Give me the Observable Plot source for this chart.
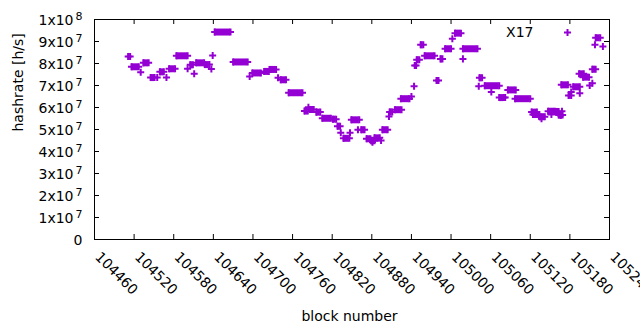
<!DOCTYPE html>
<html><head><meta charset="utf-8">
<script src="https://cdn.jsdelivr.net/npm/d3@7"></script>
<script src="https://cdn.jsdelivr.net/npm/@observablehq/plot@0.6"></script>
<style>
html,body{margin:0;padding:0;background:#fff;}
#chart svg{display:block;}
</style></head><body><div id="chart"></div>
<script>
// Runs of consecutive blocks sharing one hashrate value
const runStart = [104511,104516,104530,104534,104545,104555,104559,104569,104573,104584,104601,104605,104611,104614,104627,104637,104639,104642,104670,104695,104699,104717,104725,104738,104742,104754,104778,104784,104786,104796,104805,104821,104828,104833,104837,104847,104849,104859,104864,104872,104879,104881,104884,104894,104896,104906,104907,104915,104924,104940,104944,104945,104948,104954,104960,104978,104984,104991,105002,105006,105018,105018,105042,105043,105051,105061,105073,105082,105086,105097,105122,105124,105134,105137,105147,105152,105156,105163,105166,105168,105167,105178,105182,105185,105195,105194,105200,105210,105214,105214,105218,105219,105230];
const runEnd   = [104514,104527,104530,104542,104551,104555,104565,104569,104582,104601,104601,104609,104611,104626,104634,104637,104639,104666,104692,104695,104712,104724,104735,104738,104750,104775,104783,104784,104792,104802,104818,104826,104832,104833,104846,104847,104861,104859,104869,104878,104884,104881,104892,104894,104904,104906,104911,104925,104937,104940,104944,104947,104952,104958,104975,104981,104987,105000,105002,105015,105040,105018,105042,105047,105073,105061,105080,105082,105098,105120,105130,105133,105142,105137,105157,105152,105163,105169,105166,105168,105177,105182,105182,105195,105195,105201,105209,105210,105214,105219,105218,105226,105230];
const runValue = [83.2e6,78.5e6,76.0e6,80.3e6,73.6e6,73.6e6,76.2e6,73.6e6,77.6e6,83.5e6,77.6e6,79.4e6,75.3e6,80.3e6,79.5e6,77.5e6,83.6e6,94.3e6,80.7e6,74.1e6,75.7e6,76.4e6,77.3e6,73.5e6,72.6e6,66.7e6,58.4e6,60.1e6,59.1e6,57.9e6,55.1e6,54.7e6,51.5e6,48.5e6,46.0e6,48.5e6,54.4e6,49.9e6,49.9e6,45.8e6,44.9e6,44.2e6,46.2e6,45.0e6,49.9e6,55.9e6,58.0e6,59.0e6,64.0e6,65.0e6,69.7e6,79.1e6,81.7e6,88.5e6,83.5e6,72.3e6,82.1e6,86.7e6,91.2e6,93.8e6,86.7e6,82.1e6,69.7e6,73.5e6,69.9e6,67.0e6,64.5e6,64.5e6,68.0e6,64.0e6,57.9e6,56.8e6,55.8e6,54.9e6,58.3e6,56.8e6,58.2e6,56.6e6,56.4e6,58.3e6,70.3e6,65.5e6,67.0e6,69.4e6,66.5e6,75.3e6,73.8e6,70.0e6,71.0e6,77.4e6,88.5e6,91.7e6,87.7e6];

const xTicks = [104460,104520,104580,104640,104700,104760,104820,104880,104940,105000,105060,105120,105180,105240];
const xTickLabels = ["104460","104520","104580","104640","104700","104760","104820","104880","104940","105000","105060","105120","105180","105240"];
const yTicks = [0,1e7,2e7,3e7,4e7,5e7,6e7,7e7,8e7,9e7,1e8];
const yTickLabels = ["0","1x10^7","2x10^7","3x10^7","4x10^7","5x10^7","6x10^7","7x10^7","8x10^7","9x10^7","1x10^8"];
const seriesName = "X17";
const xLabel = "block number";
const yLabel = "hashrate [h/s]";

const color = "#9400d3";
const runs = runStart.map((s, i) => ({start: s, end: runEnd[i], value: runValue[i]}));
const points = runs.flatMap(r => r.end > r.start
  ? [{x: r.start, y: r.value}, {x: r.end, y: r.value}]
  : [{x: r.start, y: r.value}]);

const plot = Plot.plot({
  width: 640, height: 330,
  marginLeft: 94, marginRight: 31, marginTop: 19, marginBottom: 91,
  style: {fontFamily: "'DejaVu Sans', sans-serif", fontSize: "14px", background: "#fff", color: "#000"},
  x: {domain: [104460, 105240], axis: null},
  y: {domain: [0, 1e8], axis: null},
  marks: [
    Plot.tickX(xTicks, {x: d => d, insetTop: 215, stroke: "#000"}),
    Plot.tickX(xTicks, {x: d => d, insetBottom: 215, stroke: "#000"}),
    Plot.tickY(yTicks, {y: d => d, insetRight: 510, stroke: "#000"}),
    Plot.tickY(yTicks, {y: d => d, insetLeft: 510, stroke: "#000"}),
    Plot.frame({stroke: "#000", strokeWidth: 1}),
    Plot.text(xTicks, {x: d => d, text: (d, i) => xTickLabels[i], frameAnchor: "bottom", rotate: 45, textAnchor: "start", lineAnchor: "middle", dx: 3, dy: 15, fill: "#000"}),
    Plot.text(yTicks, {y: d => d, text: (d, i) => yTickLabels[i], frameAnchor: "left", textAnchor: "end", lineAnchor: "middle", dx: -12, dy: 1, fill: "#000"}),
    Plot.text([yLabel], {text: d => d, frameAnchor: "left", rotate: -90, lineAnchor: "middle", dx: -76, dy: 2, fill: "#000"}),
    Plot.text([xLabel], {text: d => d, frameAnchor: "bottom", lineAnchor: "middle", dx: -2.5, dy: 77.5, fill: "#000"}),
    Plot.text([seriesName], {text: d => d, frameAnchor: "top-right", textAnchor: "end", lineAnchor: "middle", dx: -76, dy: 13, fill: "#000"}),
    Plot.dot([seriesName], {frameAnchor: "top-right", dx: -42, dy: 13, symbol: "plus", r: 2.4, stroke: color, strokeWidth: 2}),
    Plot.ruleY(runs.filter(r => r.end > r.start), {x1: "start", x2: "end", y: "value", stroke: color, strokeWidth: 7}),
    Plot.dot(points, {x: "x", y: "y", symbol: "plus", r: 2.4, stroke: color, strokeWidth: 2})
  ]
});

// superscript exponents on the y tick labels
d3.select(plot).selectAll("text").each(function () {
  const t = this.textContent;
  if (t.includes("^")) {
    const [b, e] = t.split("^");
    while (this.firstChild) this.removeChild(this.firstChild);
    this.appendChild(document.createTextNode(b));
    const ts = document.createElementNS("http://www.w3.org/2000/svg", "tspan");
    ts.setAttribute("dx", "2");
    ts.setAttribute("dy", "-5");
    ts.setAttribute("font-size", "11");
    ts.textContent = e;
    this.appendChild(ts);
  }
});

document.getElementById("chart").appendChild(plot);
</script>
</body></html>
